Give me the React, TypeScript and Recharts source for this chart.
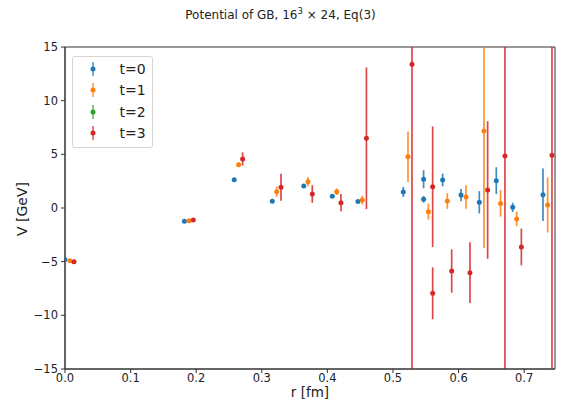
import {
  ScatterChart,
  Scatter,
  XAxis,
  YAxis,
  ErrorBar,
  Legend,
  ReferenceArea,
} from "recharts";

const FONT = "DejaVu Sans, sans-serif";

// t=0
const T0_R = [0.0, 0.182, 0.258, 0.316, 0.364, 0.4075, 0.4466, 0.5157, 0.5467, 0.5467, 0.5757, 0.6037, 0.6316, 0.6575, 0.6825, 0.7287];
const T0_V = [-4.8, -1.24, 2.64, 0.62, 2.05, 1.09, 0.6, 1.5, 2.68, 0.81, 2.61, 1.21, 0.53, 2.55, 0.06, 1.24];
const T0_E = [0.1, 0.1, 0.1, 0.1, 0.15, 0.12, 0.1, 0.47, 0.85, 0.3, 0.59, 0.57, 1.04, 1.25, 0.43, 2.45];

// t=1
const T1_R = [0.0076, 0.189, 0.2647, 0.3227, 0.3704, 0.4142, 0.4532, 0.5229, 0.554, 0.5828, 0.6113, 0.6387, 0.664, 0.6886, 0.7358];
const T1_V = [-4.91, -1.18, 4.04, 1.52, 2.45, 1.52, 0.74, 4.77, -0.34, 0.65, 1.03, 7.17, 0.43, -1.02, 0.28];
const T1_E = [0.1, 0.1, 0.2, 0.47, 0.43, 0.31, 0.41, 2.35, 0.75, 0.73, 1.09, 10.9, 1.24, 0.67, 2.56];

// t=2 (nothing visible in range)
const T2_R: number[] = [];
const T2_V: number[] = [];
const T2_E: number[] = [];

// t=3
const T3_R = [0.0137, 0.1956, 0.2708, 0.3293, 0.377, 0.4207, 0.4595, 0.529, 0.5605, 0.5605, 0.5895, 0.6174, 0.6443, 0.6707, 0.6957, 0.7424];
const T3_V = [-5.0, -1.12, 4.57, 1.93, 1.3, 0.5, 6.5, 13.39, 1.98, -7.95, -5.87, -6.03, 1.68, 4.85, -3.63, 4.91];
const T3_E = [0.1, 0.12, 0.62, 1.26, 0.82, 0.81, 6.6, 30, 5.62, 2.42, 2.02, 2.83, 6.41, 25, 1.71, 25];

const X_TICKS = [0, 0.1, 0.2, 0.3, 0.4, 0.5, 0.6, 0.7];
const Y_TICKS = [-15, -10, -5, 0, 5, 10, 15];
const X_MAX = 0.747;
const Y_MIN = -15;
const Y_MAX = 15;

const rows = (r: number[], v: number[], e: number[]) =>
  r.map((x, i) => ({ r: x, v: v[i], err: e[i] }));

const SERIES = [
  { name: "t=0", color: "#1f77b4", data: rows(T0_R, T0_V, T0_E) },
  { name: "t=1", color: "#ff7f0e", data: rows(T1_R, T1_V, T1_E) },
  { name: "t=2", color: "#2ca02c", data: rows(T2_R, T2_V, T2_E) },
  { name: "t=3", color: "#d62728", data: rows(T3_R, T3_V, T3_E) },
];

// error bars get cut at the axes limits, like matplotlib's clipping
const clippedErr = (d: { v: number; err: number }) => [
  Math.min(d.err, d.v - Y_MIN),
  Math.min(d.err, Y_MAX - d.v),
];

const fmtY = (v: number) => (v < 0 ? "\u2212" + Math.abs(v) : String(v));

function LegendBox() {
  return (
    <div
      style={{
        width: 79,
        height: 89,
        border: "1px solid #d4d4d4",
        borderRadius: 3,
        background: "rgba(255,255,255,0.8)",
        paddingTop: 1,
        boxSizing: "content-box",
        fontFamily: FONT,
        fontSize: 14,
        color: "#222",
      }}
    >
      {SERIES.map((s) => (
        <div key={s.name} style={{ display: "flex", alignItems: "center", height: 21.5 }}>
          <svg width={40} height={20} style={{ display: "block" }}>
            <line x1={20} x2={20} y1={3} y2={17} stroke={s.color} strokeWidth={1.6} strokeOpacity={0.75} />
            <circle cx={20} cy={10} r={2.5} fill={s.color} />
          </svg>
          <span style={{ marginLeft: 6.5 }}>{s.name}</span>
        </div>
      ))}
    </div>
  );
}

export default function App() {
  return (
    <div style={{ position: "absolute", left: 0, top: 0, width: 561, height: 400, background: "#fff" }}>
      <ScatterChart width={561} height={400} margin={{ top: 47, right: 6, bottom: 0, left: 0 }}>
        <XAxis
          type="number"
          dataKey="r"
          domain={[0, X_MAX]}
          ticks={X_TICKS}
          allowDataOverflow
          tickFormatter={(v: number) => v.toFixed(1)}
          height={31}
          tickSize={4}
          tickMargin={1}
          stroke="#333"
          tick={{ fill: "#222", fontSize: 11.5, fontFamily: FONT }}
        />
        <YAxis
          type="number"
          dataKey="v"
          domain={[Y_MIN, Y_MAX]}
          ticks={Y_TICKS}
          allowDataOverflow
          tickFormatter={fmtY}
          width={65}
          tickSize={4}
          tickMargin={3}
          stroke="#333"
          tick={{ fill: "#222", fontSize: 11.5, fontFamily: FONT }}
        />
        <ReferenceArea
          x1={0}
          x2={X_MAX}
          y1={Y_MIN}
          y2={Y_MAX}
          fill="none"
          stroke="#333"
          strokeWidth={1}
          ifOverflow="visible"
        />
        {SERIES.map((s) => (
          <Scatter
            key={s.name}
            name={s.name}
            data={s.data}
            fill={s.color}
            isAnimationActive={false}
            shape={(p: any) => <circle cx={p.cx} cy={p.cy} r={2.5} fill={s.color} />}
          >
            <ErrorBar
              dataKey={clippedErr}
              direction="y"
              width={0}
              stroke={s.color}
              strokeWidth={1.7}
              strokeOpacity={0.85}
            />
          </Scatter>
        ))}
        <Legend
          layout="vertical"
          align="center"
          verticalAlign="middle"
          wrapperStyle={{ left: 72, top: 56, width: 81, height: 91 }}
          content={() => <LegendBox />}
        />
      </ScatterChart>
      <svg
        width={561}
        height={400}
        style={{ position: "absolute", left: 0, top: 0, pointerEvents: "none" }}
      >
        <text x={280.5} y={19} textAnchor="middle" fontFamily={FONT} fontSize={12} fill="#222">
          Potential of GB, 16<tspan dy={-5} fontSize={8.5}>3</tspan>
          <tspan dy={5}> × 24, Eq(3)</tspan>
        </text>
        <text x={310} y={397} textAnchor="middle" fontFamily={FONT} fontSize={13.5} fill="#222">
          r [fm]
        </text>
        <text
          x={27}
          y={209}
          textAnchor="middle"
          fontFamily={FONT}
          fontSize={14}
          fill="#222"
          transform="rotate(-90 27 209)"
        >
          V [GeV]
        </text>
      </svg>
    </div>
  );
}
